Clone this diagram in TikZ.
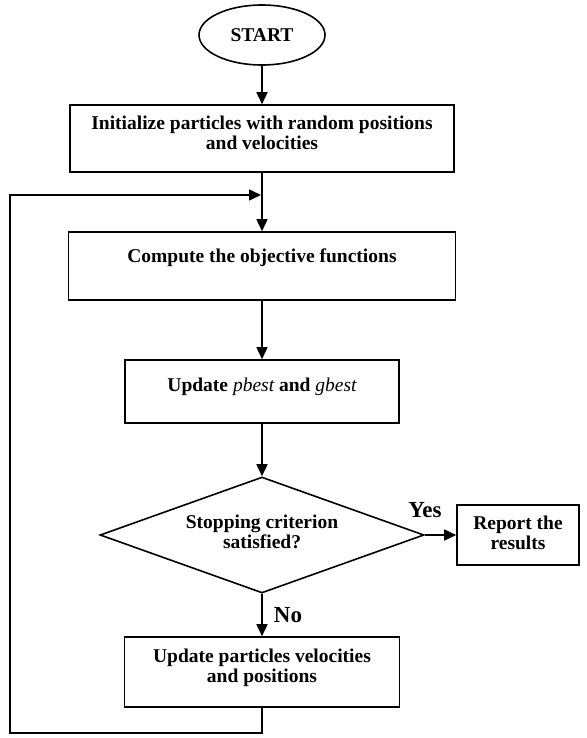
\documentclass[tikz,border=0pt]{standalone}
\usepackage{fontspec}
\setmainfont{Liberation Serif}
\usetikzlibrary{shapes.geometric,arrows.meta}
\begin{document}
\begin{tikzpicture}[x=1pt,y=-1pt,
  every node/.style={font=\bfseries\fontsize{19.5}{20}\selectfont, inner sep=0pt, align=center},
  box/.style={draw, line width=1.6pt, rectangle},
  arr/.style={line width=1.6pt, -{Triangle[length=12pt,width=11pt]}},
  lbl/.style={font=\bfseries\fontsize{23}{25}\selectfont}
]
\fill[white] (0,0) rectangle (586,738);
\useasboundingbox (0,0) rectangle (586,738);

\node[draw, ellipse, line width=1.6pt, minimum width=126pt, minimum height=60pt] (start) at (262,35) {START};
\node[box, minimum width=384pt, minimum height=67pt, text depth=11pt] (init) at (262,138.5)
  {Initialize particles with random positions\\and velocities};
\node[box, minimum width=387pt, minimum height=68pt, text depth=20pt] (comp) at (262,266)
  {Compute the objective functions};
\node[box, minimum width=274pt, minimum height=63pt, text depth=13pt] (pb) at (262,391.5)
  {Update {\mdseries\itshape pbest} and {\mdseries\itshape gbest}};
\node[draw, diamond, line width=1.6pt, minimum width=324pt, minimum height=116pt, aspect=2.8, text depth=6pt] (dec) at (262,535)
  {Stopping criterion\\satisfied?};
\node[box, minimum width=122pt, minimum height=60pt, text depth=5pt] (rep) at (518,535)
  {Report the\\results};
\node[box, minimum width=275pt, minimum height=70pt, text depth=13pt] (upd) at (262,672)
  {Update particles velocities\\and positions};

\node[lbl] (yes) at (425,510) {Yes};
\node[lbl] (no) at (288,615) {No};

\coordinate (c1) at (262,733);
\coordinate (c2) at (10,733);
\coordinate (c3) at (10,195);
\coordinate (jn) at (261,195);

\draw[arr] (start) -- (init);
\draw[arr] (init) -- (comp);
\draw[arr] (comp) -- (pb);
\draw[arr] (pb) -- (dec);
\draw[arr] (dec) -- (rep);
\draw[arr] (dec) -- (upd);
\draw[arr] (upd.south) -- (c1) -- (c2) -- (c3) -- (jn);
\end{tikzpicture}
\end{document}
